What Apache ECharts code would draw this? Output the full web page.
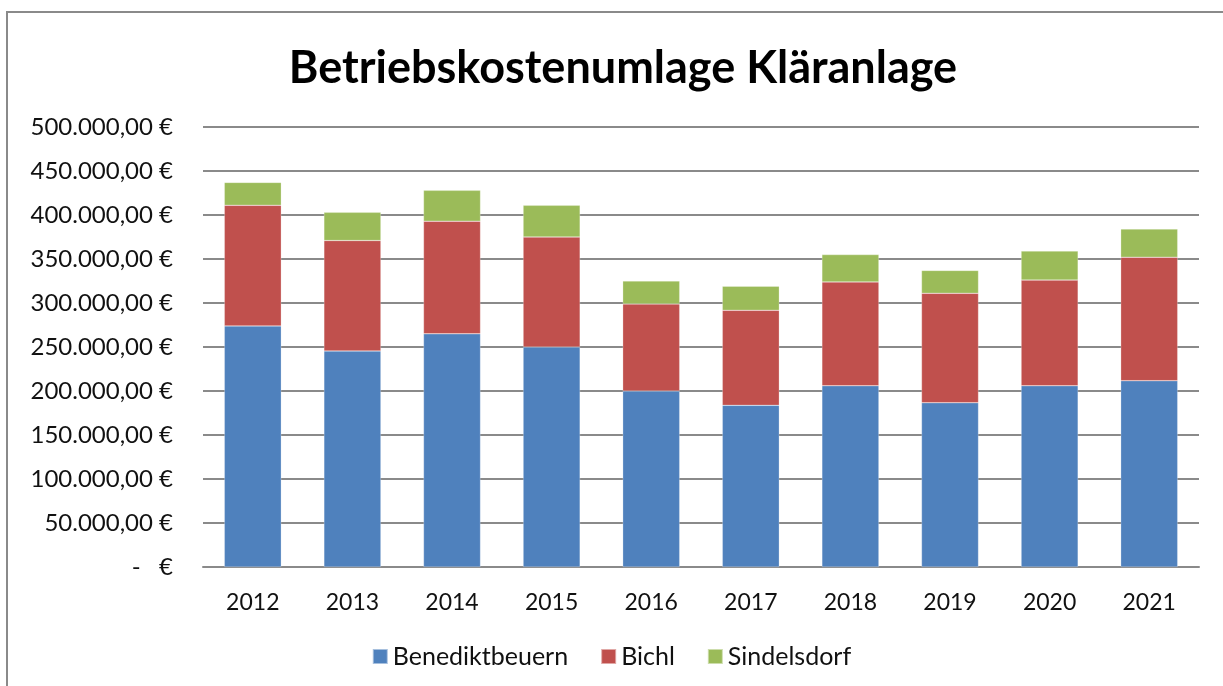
<!DOCTYPE html>
<html>
<head>
<meta charset="utf-8">
<script src="https://cdn.jsdelivr.net/npm/echarts@6/dist/echarts.min.js"></script>
<style>
  html, body { margin: 0; padding: 0; background: #fff; }
  #chart { width: 1223px; height: 686px; }
</style>
</head>
<body>
<div id="chart"></div>
<script>
// Jahre
const years = ['2012', '2013', '2014', '2015', '2016', '2017', '2018', '2019', '2020', '2021']
// Anteile je Gemeinde in Euro
const benediktbeuern = [274000, 245500, 265000, 250000, 200000, 183700, 206000, 186700, 206000, 211700]
const bichl = [137000, 125500, 128000, 125000, 99000, 108000, 118000, 124300, 120000, 140300]
const sindelsdorf = [26000, 32000, 35000, 36000, 26000, 27300, 31000, 26000, 33000, 32000]
// Achsenbeschriftung
const yTickLabels = ['-   €', '50.000,00 €', '100.000,00 €', '150.000,00 €', '200.000,00 €',
    '250.000,00 €', '300.000,00 €', '350.000,00 €', '400.000,00 €', '450.000,00 €', '500.000,00 €']

const font = 'Lato, "Open Sans", sans-serif'
const myChart = echarts.init(document.getElementById('chart'))

const bar = (name, data, color) => ({
    name: name,
    type: 'bar',
    stack: 'total',
    barWidth: 57,
    itemStyle: { color: color, borderColor: 'rgba(255,255,255,0.5)', borderWidth: 0.5 },
    data: data
})

myChart.setOption({
    animation: false,
    graphic: [{
        type: 'rect',
        shape: { x: 7, y: 12, width: 1230, height: 700 },
        style: { fill: 'none', stroke: '#8a8a8a', lineWidth: 2 }
    }],
    title: {
        text: 'Betriebskostenumlage Kläranlage',
        left: 618,
        top: 41,
        textAlign: 'center',
        textStyle: { fontFamily: font, fontSize: 45, fontWeight: 'bold', color: '#000' }
    },
    legend: {
        bottom: 12,
        left: 'center',
        itemWidth: 15,
        itemHeight: 15,
        itemGap: 32,
        icon: 'rect',
        textStyle: { fontFamily: font, fontSize: 25, color: '#111' },
        data: ['Benediktbeuern', 'Bichl', 'Sindelsdorf']
    },
    grid: { left: 203, right: 24, top: 127, bottom: 119 },
    xAxis: {
        type: 'category',
        data: years,
        axisTick: { show: false },
        axisLine: { lineStyle: { color: '#8a8a8a', width: 2 } },
        axisLabel: { fontFamily: font, fontSize: 23, color: '#111', margin: 24 }
    },
    yAxis: {
        type: 'value',
        min: 0,
        max: 500000,
        interval: 50000,
        axisLine: { show: false },
        axisTick: { show: false },
        splitLine: { lineStyle: { color: '#8a8a8a', width: 2 } },
        axisLabel: {
            fontFamily: font,
            fontSize: 24,
            color: '#111',
            margin: 30,
            formatter: v => yTickLabels[Math.round(v / 50000)]
        }
    },
    series: [
        bar('Benediktbeuern', benediktbeuern, '#4F81BD'),
        bar('Bichl', bichl, '#C0504D'),
        bar('Sindelsdorf', sindelsdorf, '#9BBB59')
    ]
})
window.addEventListener('resize', () => {
    myChart.resize()
})
</script>
</body>
</html>
